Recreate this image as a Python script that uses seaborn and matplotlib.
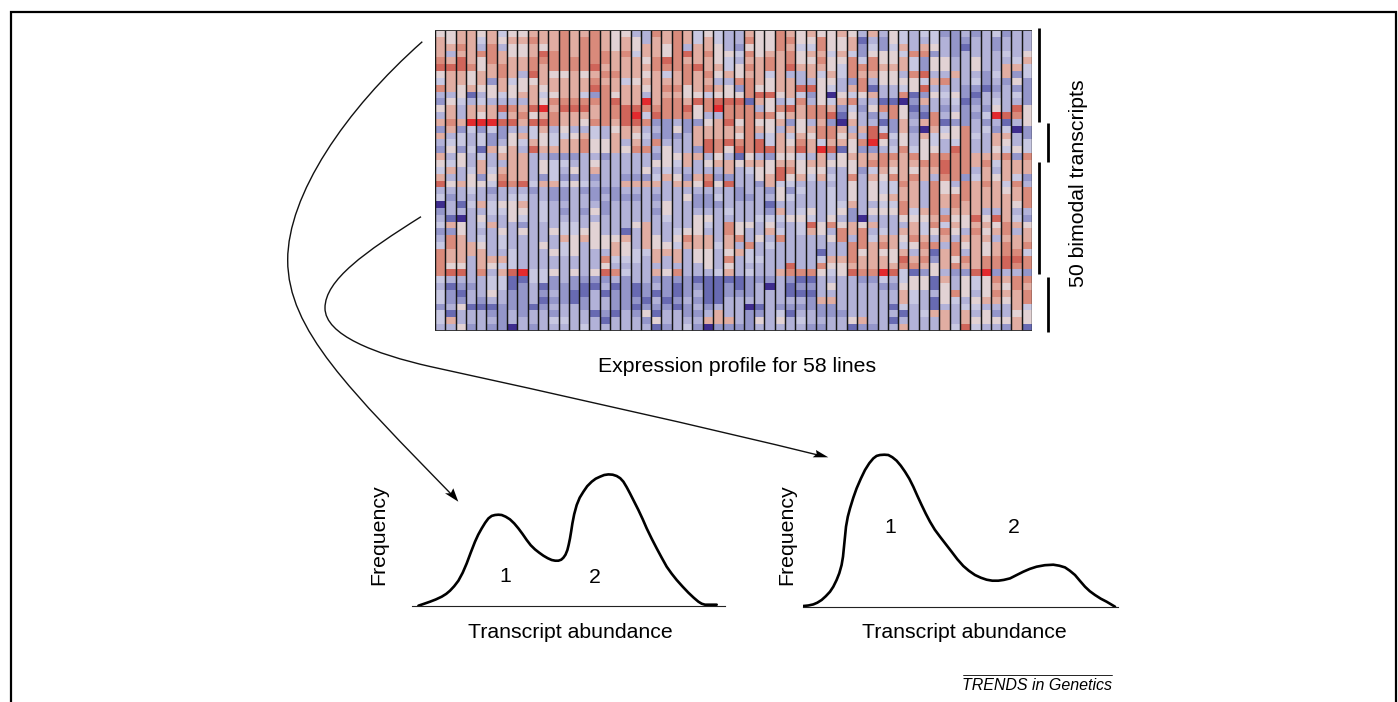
import numpy as np
import matplotlib
matplotlib.use('Agg')
import matplotlib.pyplot as plt
from matplotlib.colors import ListedColormap
from matplotlib.path import Path
from matplotlib.patches import PathPatch
import seaborn as sns

sns.set_style('white')
plt.rcParams['font.family'] = ['Liberation Sans', 'DejaVu Sans']
plt.rcParams['text.color'] = 'black'
plt.rcParams['axes.labelcolor'] = 'black'

# expression level per transcript (row) and line (column), 0 = darkest blue, 9 = brightest red
heat_rows = [
    [5,5,6,6,5,6,4,5,5,6, 6,6,7,6,6,7,6,5,5,3, 3,7,6,7,6,4,5,4,3,3, 6,5,5,7,6,5,6,5,5,6, 5,3,6,3,5,4,3,4,4,2, 2,3,2,3,4,2,3,3],
    [6,5,6,6,4,6,5,6,6,7, 6,6,7,6,7,7,6,5,6,5, 3,6,6,7,6,4,6,4,3,3, 7,5,5,7,7,5,5,7,5,5, 6,1,3,2,5,4,3,3,4,3, 2,2,3,3,2,3,3,3],
    [6,6,7,6,3,7,3,5,5,6, 5,6,7,6,7,7,6,5,6,5, 6,6,5,7,3,6,6,5,3,2, 5,5,5,7,6,4,4,7,5,5, 6,2,4,2,4,6,3,6,5,3, 2,1,3,3,2,3,3,3],
    [6,3,6,6,7,7,6,5,5,6, 8,7,7,6,7,7,7,6,7,4, 6,6,5,7,8,6,7,5,5,4, 7,5,6,6,7,5,6,6,4,6, 4,2,5,5,5,4,7,7,2,3, 2,3,3,3,3,4,3,5],
    [7,6,8,6,5,7,6,6,6,7, 7,7,7,7,7,7,7,6,6,6, 5,7,8,7,6,6,6,5,4,3, 6,6,7,6,7,5,5,7,5,5, 7,4,7,5,5,6,4,2,5,5, 3,3,5,3,3,3,4,6],
    [8,8,8,7,5,6,7,6,6,7, 6,7,7,7,7,8,6,6,6,6, 6,7,7,7,7,8,6,6,4,5, 7,6,7,6,8,6,6,6,5,4, 7,7,7,6,6,6,4,2,5,5, 3,3,5,3,3,6,6,4],
    [5,6,6,5,6,6,7,6,3,8, 6,5,5,6,5,6,7,7,6,6, 5,6,4,6,7,6,7,5,6,5, 6,6,4,6,3,3,6,4,6,4, 7,6,6,5,5,3,7,8,3,3, 6,3,3,2,4,6,2,4],
    [4,6,6,5,6,2,6,4,5,5, 6,6,6,6,6,7,6,6,4,5, 6,6,6,6,7,6,6,3,3,7, 7,6,5,6,6,3,3,5,5,3, 2,7,3,5,5,5,5,4,6,7, 3,3,4,2,3,2,5,2],
    [7,6,5,6,5,5,6,5,5,6, 5,6,6,6,6,8,7,6,6,6, 5,6,7,7,5,6,7,6,5,2, 7,5,5,6,6,8,8,5,4,3, 6,7,1,3,3,4,5,8,3,3, 3,2,2,1,2,3,2,2],
    [3,3,5,1,3,5,4,5,6,6, 4,5,6,6,4,2,7,5,6,6, 3,6,6,6,5,5,4,5,5,5, 7,8,8,5,6,4,2,5,0,5, 4,5,6,3,3,7,1,2,5,4, 5,2,1,3,3,3,4,2],
    [2,5,4,3,4,3,3,3,3,6, 5,7,7,7,7,7,7,8,6,6, 9,6,7,7,6,8,7,8,8,8, 1,6,5,3,4,7,3,5,4,6, 7,3,3,1,1,0,2,6,3,3, 4,1,2,3,4,3,3,2],
    [5,6,3,6,6,6,8,7,6,8, 9,6,8,8,8,6,7,7,8,8, 7,7,7,7,8,5,7,9,7,7, 7,3,5,7,8,6,7,7,6,2, 4,2,5,7,7,5,1,2,3,2, 3,2,3,2,5,3,8,5],
    [3,6,3,6,5,6,3,6,7,5, 6,7,6,6,6,6,7,7,8,9, 4,8,7,7,7,5,3,3,7,7, 7,7,7,5,6,6,7,7,8,1, 5,3,2,3,7,5,2,1,7,3, 5,2,2,4,9,8,7,5],
    [6,7,6,9,9,9,8,8,6,8, 8,7,6,6,5,7,7,6,8,8, 7,2,2,3,2,2,5,6,8,5, 7,5,5,6,2,5,3,6,2,0, 6,3,3,1,2,6,3,6,7,1, 2,2,3,2,3,1,3,5],
    [2,6,2,4,2,4,2,3,3,4, 6,3,5,3,3,4,3,5,6,6, 3,3,2,5,2,6,6,6,6,6, 7,6,5,3,6,5,6,7,7,6, 3,6,8,4,2,6,2,0,6,4, 5,7,3,4,2,4,0,2],
    [6,3,4,3,4,2,2,5,6,4, 5,4,4,5,6,4,3,6,6,5, 4,2,2,2,3,6,6,6,6,5, 7,3,4,6,4,6,5,7,7,5, 6,3,8,8,4,5,3,6,4,5, 5,7,4,3,6,6,3,2],
    [3,4,4,3,4,2,3,5,4,6, 5,4,6,6,7,5,5,6,3,6, 3,7,3,3,3,6,8,7,8,7, 7,8,4,6,5,7,6,4,6,6, 5,7,9,5,3,5,3,5,4,3, 4,7,3,3,6,5,3,4],
    [2,5,2,4,1,6,5,6,3,8, 6,6,6,6,7,5,5,6,5,7, 7,3,5,3,3,2,8,7,5,8, 7,8,8,6,6,8,6,9,8,1, 5,2,2,3,4,7,4,5,5,3, 8,7,3,3,5,4,5,4],
    [6,3,5,3,4,3,6,6,6,3, 3,2,2,2,3,3,2,3,3,3, 3,2,5,5,6,6,3,5,3,1, 5,3,2,5,5,4,3,6,3,5, 6,6,6,7,7,6,7,5,7,7, 7,7,6,6,6,7,2,7],
    [5,4,5,3,6,3,3,6,6,3, 5,4,4,3,3,5,3,3,3,3, 3,5,5,4,6,3,5,6,6,5, 6,6,5,6,6,5,6,6,5,5, 5,6,7,7,6,6,6,7,7,8, 7,7,6,7,4,6,6,6],
    [4,6,3,4,6,4,6,6,6,3, 5,4,3,5,3,6,3,3,3,3, 5,3,4,3,3,3,3,3,6,3, 4,5,5,8,7,5,5,5,3,3, 5,2,4,6,5,6,5,6,6,8, 7,7,3,6,3,6,6,6],
    [6,3,3,5,2,5,7,6,6,3, 2,4,2,2,3,2,3,3,2,2, 2,4,6,5,2,6,7,2,2,3, 3,5,6,8,5,6,4,6,4,3, 7,3,6,5,7,6,7,6,3,7, 7,2,4,6,5,6,4,2],
    [8,5,6,5,5,4,8,7,8,4, 6,6,4,5,4,3,3,3,6,6, 6,6,3,6,6,5,8,5,8,3, 3,2,6,4,4,3,3,3,3,3, 5,3,5,4,4,7,6,3,7,5, 3,7,6,7,6,4,7,3],
    [3,3,3,4,3,2,3,3,3,2, 3,2,2,3,2,2,2,2,3,3, 3,3,3,3,3,3,3,3,3,2, 3,3,2,5,2,4,3,3,4,3, 5,3,5,4,4,6,6,3,7,5, 5,7,6,6,6,5,6,7],
    [4,2,3,3,3,3,3,4,4,3, 3,2,2,3,3,2,3,2,2,2, 3,2,3,3,5,2,2,4,3,2, 2,3,3,5,4,3,3,3,4,3, 5,3,5,5,6,6,6,3,7,6, 7,7,6,6,6,6,6,7],
    [0,3,1,4,6,4,5,5,6,3, 4,3,3,3,3,3,2,3,3,3, 3,3,5,3,3,2,2,2,3,3, 3,3,1,3,3,3,3,3,4,4, 6,3,3,4,4,7,6,3,7,6, 7,6,6,6,6,6,5,7],
    [2,3,3,3,3,4,4,5,5,3, 4,3,2,3,2,5,2,3,3,3, 3,2,5,3,3,3,3,3,4,3, 3,3,2,6,3,4,5,3,4,5, 2,3,5,5,5,7,4,6,7,3, 6,6,6,3,3,6,3,3],
    [3,1,0,3,5,3,3,5,4,3, 4,3,3,3,3,3,3,3,3,3, 3,3,4,3,3,5,5,3,3,3, 3,4,4,4,5,5,4,3,5,3, 2,0,3,3,3,5,5,5,6,7, 5,5,8,5,8,6,4,2],
    [4,6,5,3,4,6,3,3,2,3, 3,3,4,4,3,5,3,3,3,5, 6,3,3,3,3,5,4,3,7,5, 5,3,5,3,3,4,8,5,7,5, 6,5,6,3,3,3,6,4,7,4, 6,5,6,6,5,7,6,5],
    [2,2,5,3,3,3,5,3,5,3, 3,5,4,4,5,5,3,3,1,3, 6,3,3,4,5,5,3,3,7,5, 3,3,6,4,3,4,6,5,3,7, 6,7,3,4,3,6,6,4,5,7, 5,3,7,5,6,7,3,6],
    [3,7,6,3,4,3,4,3,3,3, 3,3,6,5,6,5,5,5,6,3, 6,5,3,5,7,6,6,3,6,7, 3,5,3,7,3,3,3,3,5,7, 3,7,4,6,6,5,7,6,3,6, 3,6,6,6,3,6,6,6],
    [4,7,6,6,5,3,4,3,3,3, 5,3,4,5,3,5,5,6,5,3, 6,5,5,4,6,6,6,4,6,3, 7,3,4,3,3,3,3,3,3,3, 7,7,6,7,6,4,5,7,7,3, 7,5,6,5,6,7,6,7],
    [7,6,6,6,6,3,3,4,3,3, 3,5,4,5,3,3,3,6,5,4, 4,6,6,6,3,5,5,3,5,6, 4,3,3,3,3,3,3,1,3,3, 7,5,6,5,5,6,3,6,1,6, 7,3,6,5,6,7,7,4],
    [7,6,6,3,6,6,6,4,3,3, 3,3,3,3,3,3,7,4,4,4, 3,6,3,6,3,5,5,3,7,3, 4,4,3,3,3,3,3,4,6,6, 7,6,6,6,5,8,6,7,2,6, 5,7,6,7,7,8,8,7],
    [7,5,5,3,6,5,4,4,3,3, 3,3,3,3,3,3,5,3,3,3, 3,3,3,3,3,3,5,3,5,3, 3,3,3,3,8,3,3,7,5,5, 6,6,6,6,6,7,7,6,5,6, 7,6,6,7,7,8,7,7],
    [7,8,8,3,7,3,6,8,9,4, 4,5,3,5,3,5,8,7,4,3, 3,6,5,7,3,3,3,4,6,3, 4,3,3,6,7,7,7,5,4,5, 8,7,7,9,8,4,1,2,5,3, 2,2,8,9,2,3,3,2],
    [4,3,3,3,3,4,4,1,1,4, 4,2,3,2,2,2,2,3,2,3, 3,2,2,2,2,1,1,1,1,1, 2,2,2,3,2,1,1,3,3,3, 3,2,2,4,3,4,5,5,1,6, 3,5,4,5,7,6,7,7],
    [3,1,2,2,3,4,4,1,2,3, 1,2,2,2,1,1,3,1,2,1, 2,3,2,1,2,2,1,1,2,1, 2,3,0,3,1,2,2,3,5,3, 3,3,3,2,2,5,5,5,1,5, 3,5,4,5,6,5,7,6],
    [4,2,1,3,3,5,3,2,2,3, 2,3,2,1,1,3,1,2,2,1, 2,1,2,1,2,3,1,1,2,2, 2,3,3,3,1,1,1,3,3,3, 3,3,3,3,3,6,4,3,3,5, 7,5,3,5,7,6,6,7],
    [4,2,2,3,2,3,3,2,2,3, 1,2,2,1,2,3,3,2,2,2, 1,3,1,2,3,2,1,1,3,3, 3,3,3,3,3,3,2,6,6,3, 3,3,3,3,3,6,4,3,1,5, 4,3,5,6,6,5,6,7],
    [2,3,5,1,1,1,2,2,2,1, 2,3,3,3,2,3,3,2,2,1, 2,2,2,1,2,3,2,3,3,3, 0,1,3,2,2,2,2,2,2,3, 3,3,3,3,1,4,3,3,1,3, 3,4,4,3,3,3,6,4],
    [4,1,3,3,3,2,2,3,2,3, 3,2,3,3,3,1,2,1,3,2, 5,1,3,3,2,2,3,6,3,3, 2,2,3,4,1,3,3,2,2,2, 3,3,3,3,3,1,3,4,6,6, 3,6,3,5,2,3,5,5],
    [4,6,3,3,3,3,2,3,3,3, 3,4,4,3,3,3,1,3,3,3, 2,5,3,3,3,3,6,6,6,3, 2,5,3,5,3,4,3,3,3,3, 5,6,3,3,1,3,3,3,3,6, 3,6,5,5,5,5,6,5],
    [3,3,5,2,3,2,2,0,3,2, 3,3,3,3,4,3,3,3,3,3, 3,1,2,3,4,2,0,2,2,2, 2,3,3,3,3,3,2,2,3,3, 1,2,2,3,3,6,3,3,3,6, 4,8,4,3,3,2,6,1],
]
level_colors = ['#3e2c8e', '#686ab2', '#9496ca', '#b2b2d8', '#c8c8e2',
                '#e2d2d4', '#e1ada2', '#d98a7b', '#d0655a', '#e32a2e']

# left curve
abundance_a = [6.7,12,18.3,24,30,34.5,38.3,42.5,46.7,51,55,59,63.3,66.5,70,73.5,76.7,80,83.3,86.7,90,94,98.3,102.5,106.7,
               111,115,119,123.3,127.5,131.7,136,140,143.5,146.7,149.5,151.7,153.8,155.7,157,158.3,159.5,160.7,162.5,165,
               168,171.7,175.5,180,184,188.3,192.5,196.7,201,205,208.5,211.7,215,218.3,222.5,226.7,231,235,240,245,250,255,
               260,265,271,276.7,282,286.7,290,293.3,299,305]
frequency_a = [0,1.8,4,6.2,9,11.8,15,19.5,25,33,42.3,53,64,71,77.3,83,87.3,89.8,90.7,91,90.7,89,86.3,82.3,77.3,
               71.5,65.7,60.5,56.3,53,50,47.5,45.7,45,45,46,48,51,55.7,61,67.3,74.5,82.3,91.5,100.7,
               108,114,119.5,124,127,129,130.7,131.3,131,129.7,127.5,124,118.5,112.3,104,95.7,86.5,77.3,67,57.3,48,39,
               32,25.7,19,13,8,4,2,1,1,1]
# right curve
abundance_b = [0,5,10,14,18.3,22.5,26.7,30,33.3,36,38.3,39.7,40.7,41.7,42.7,44.5,46.7,50,53.3,57.5,61.7,66,70,73.3,76.7,81,85,
               89,93.3,97.5,101.7,106,110,114,118.3,122.5,126.7,131.5,136.7,142.5,148.3,154,160,165.5,171.7,177.5,183.3,189,
               195,200.5,206.7,213,220,226.5,233.3,241.5,250,256,261.7,266.5,271.7,276.5,281.7,286.5,291.7,297.5,303.3,307.5,311.7]
frequency_b = [0.7,1.2,2.3,4,6.7,10.5,15,20,26.7,33.5,41.7,50,60,70,80,90,98.3,109,118.3,128,136.7,143.5,148.3,150.8,151.7,152,151.7,
               149.5,146,141,135,128,120,111,101.7,93,85,77,70,62.5,55,47.5,40.7,36,31.7,29,27,26,
               26,26.8,28.3,31.5,35,37.8,40,41.5,42,41,39.3,36,31.7,26,20,15.5,11.7,8,5,2.5,0]

# leader curves from the heatmap to the two plots, as bezier vertices in image pixels
leader_a = [(422.3,41.7),(345,110),(287.7,195),(287.7,260),(287.7,330),(350,390),(453,496)]
leader_b = [(421,216.7),(365,252),(325,280),(325,308),(325,335),(375,354),(430,366.5),(560,395),(700,426),(822,456)]
head_a = [(458.3,501.7),(445,493.3),(450.7,493.3),(453.3,488.3)]
head_b = [(828.3,457.3),(812.7,457.3),(816.7,454),(816,450)]

W, H = 1398, 702


def px_axes(left, top, right, bottom, **kw):
    return fig.add_axes([left / W, 1 - bottom / H, (right - left) / W, (bottom - top) / H], **kw)


fig = plt.figure(figsize=(W / 100, H / 100), dpi=100)

# overlay in image coordinates for frame, leaders and bars
over = px_axes(0, 0, W, H)
over.set_xlim(0, W)
over.set_ylim(H, 0)
over.axis('off')
over.plot([10.5, 10.5, 1396, 1396], [702, 12, 12, 702], color='black', lw=1.6, solid_joinstyle='miter')
for leader in [leader_a, leader_b]:
    codes = [Path.MOVETO] + [Path.CURVE4] * (len(leader) - 1)
    over.add_patch(PathPatch(Path(leader, codes), fill=False, edgecolor='#111111', lw=1.0))
for head in [head_a, head_b]:
    over.fill(*zip(*head), color='black', lw=0)
for x, y0, y1 in [(1039, 28, 121.5), (1048, 123, 161.5), (1039, 162, 274), (1048, 276.5, 331.5)]:
    over.plot([x, x], [y0, y1], color='black', lw=2, solid_capstyle='butt')
over.text(1078, 183, '50 bimodal transcripts', rotation=90, ha='center', va='center', fontsize=15.3)
over.text(737.5, 366.5, 'Expression profile for 58 lines', ha='center', va='center', fontsize=15.3)
over.plot([963, 1112], [674.5, 674.5], color='black', lw=0.6)
over.text(1112, 685.5, 'TRENDS in Genetics', style='italic', ha='right', va='center', fontsize=11.5)

# heatmap
ax = px_axes(435, 30, 1032, 331)
sns.heatmap(np.array(heat_rows), ax=ax, cmap=ListedColormap(level_colors), vmin=-0.5, vmax=9.5,
            cbar=False, xticklabels=False, yticklabels=False)
ax.vlines(np.arange(len(heat_rows[0]) + 1), 0, len(heat_rows), color='#151515', lw=1.05)
ax.hlines([0, len(heat_rows)], 0, len(heat_rows[0]), color='#303030', lw=1.3)

# frequency plots
for left, right, top, base, xs, ys, labels, ylab_x, xlab_x in [
    (411.7, 725, 460, 605.7, abundance_a, frequency_a, [(94, 29, '1'), (183, 28, '2')], 388, 570),
    (803.3, 1118.3, 446.7, 606.7, abundance_b, frequency_b, [(86.7, 79, '1'), (211, 79, '2')], 796, 964),
]:
    c = px_axes(left, top, right, base)
    c.patch.set_alpha(0)
    sns.lineplot(x=xs, y=ys, sort=False, estimator=None, color='black', lw=1.9, ax=c)
    c.set_xlim(0, right - left)
    c.set_ylim(0, base - top)
    c.set_xticks([])
    c.set_yticks([])
    sns.despine(ax=c, left=True)
    c.spines['bottom'].set_linewidth(0.8)
    c.spines['bottom'].set_color('#222222')
    c.set_xlabel('Transcript abundance', fontsize=15.3)
    c.set_ylabel('Frequency', fontsize=15.3)
    c.xaxis.set_label_coords((xlab_x - left) / (right - left), (base - 622.5) / (base - top))
    c.yaxis.set_label_coords((ylab_x - left) / (right - left), (base - 535) / (base - top))
    for lx, ly, s in labels:
        c.text(lx, ly, s, ha='center', va='center', fontsize=15.3)

fig.savefig('out.png', dpi=100)
plt.close()
